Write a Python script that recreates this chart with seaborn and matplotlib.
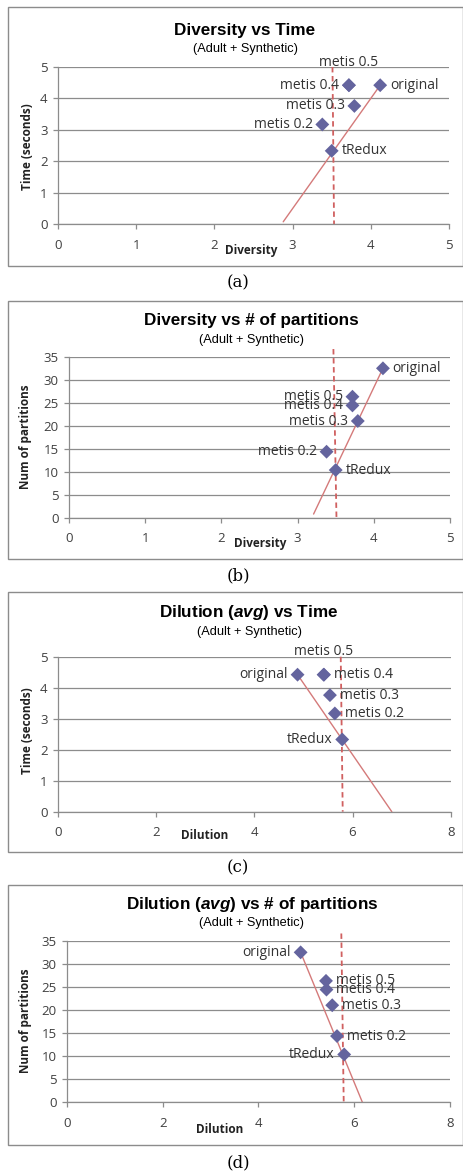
import numpy as np
import pandas as pd
import matplotlib
matplotlib.use("Agg")
import matplotlib.pyplot as plt
from matplotlib.patches import Rectangle
import seaborn as sns

# data
labels = ["original", "metis 0.5", "metis 0.4", "metis 0.3", "metis 0.2", "tRedux"]
diversity = [4.12, 3.72, 3.72, 3.79, 3.38, 3.50]
dilution = [4.88, 5.41, 5.42, 5.54, 5.64, 5.79]
time_sec = [4.42, 4.42, 4.42, 3.76, 3.17, 2.33]
partitions = [32.6, 26.4, 24.5, 21.1, 14.4, 10.4]

# trend lines and dashed reference lines (end points)
trend_a = ([2.88, 4.12], [0.07, 4.42])
trend_b = ([3.21, 4.12], [0.8, 32.6])
trend_c = ([4.88, 6.80], [4.42, 0.0])
trend_d = ([4.88, 6.17], [32.6, 0.0])
ref_a = ([3.51, 3.53], [5.0, 0.0])
ref_b = ([3.47, 3.51], [36.8, 0.0])
ref_c = ([5.76, 5.80], [5.0, 0.0])
ref_d = ([5.73, 5.78], [36.7, 0.0])

time_ticks = [0, 1, 2, 3, 4, 5]
part_ticks = [0, 5, 10, 15, 20, 25, 30, 35]
div_ticks = [0, 1, 2, 3, 4, 5]
dil_ticks = [0, 2, 4, 6, 8]

sns.set_theme(style="white")
plt.rcParams["font.family"] = ["Open Sans", "DejaVu Sans"]
plt.rcParams["mathtext.fontset"] = "custom"
plt.rcParams["mathtext.it"] = "Liberation Sans:italic:bold"
plt.rcParams["mathtext.rm"] = "Liberation Sans:bold"

W, H = 464, 1172
fig = plt.figure(figsize=(W / 100, H / 100), dpi=100)
fig.patch.set_facecolor("white")

GRID = "#8c8c8c"
MARK = "#64649e"
TXT = "#404040"


def fx(x):
    return x / W


def fy(y):
    return 1 - y / H


# side: r = right, l = left, u = above
panels = [
    dict(x=diversity, y=time_sec, trend=trend_a, ref=ref_a, xt=div_ticks, yt=time_ticks,
         box=(8, 7, 463, 266), ax=(58, 67, 449, 224),
         title="Diversity vs Time", tpos=(245, 30), spos=(246, 48.7),
         xl="Diversity", xlpos=(250.7, 250.7), yl="Time (seconds)", ylpos=(27.3, 146.7),
         cap="(a)", cappos=(238, 283), sides=["r", "u", "l", "l", "l", "r"]),
    dict(x=diversity, y=partitions, trend=trend_b, ref=ref_b, xt=div_ticks, yt=part_ticks,
         box=(8, 301, 463, 558.7), ax=(69, 357.3, 450, 517.7),
         title="Diversity vs # of partitions", tpos=(251.7, 321), spos=(251.7, 340),
         xl="Diversity", xlpos=(260, 544), yl="Num of partitions", ylpos=(26, 436.7),
         cap="(b)", cappos=(238, 576), sides=["r", "l", "l", "l", "l", "r"]),
    dict(x=dilution, y=time_sec, trend=trend_c, ref=ref_c, xt=dil_ticks, yt=time_ticks,
         box=(8, 592, 463, 851.7), ax=(58, 656.7, 450.7, 811.7),
         title=r"Dilution ($\mathit{avg}$) vs Time", tpos=(249, 612.3), spos=(249.7, 631.7),
         xl="Dilution", xlpos=(204.7, 835.7), yl="Time (seconds)", ylpos=(27.3, 730.7),
         cap="(c)", cappos=(238, 868), sides=["l", "u", "r", "r", "r", "l"]),
    dict(x=dilution, y=partitions, trend=trend_d, ref=ref_d, xt=dil_ticks, yt=part_ticks,
         box=(8, 885, 463, 1145), ax=(67, 941.3, 450, 1102.3),
         title=r"Dilution ($\mathit{avg}$) vs # of partitions", tpos=(252, 905), spos=(252, 923.3),
         xl="Dilution", xlpos=(220, 1129.3), yl="Num of partitions", ylpos=(26, 1020.7),
         cap="(d)", cappos=(238, 1163), sides=["l", "r", "r", "r", "r", "l"]),
]

for p in panels:
    bx0, by0, bx1, by1 = p["box"]
    fig.patches.append(Rectangle((fx(bx0), fy(by1)), fx(bx1 - bx0), (by1 - by0) / H,
                                 transform=fig.transFigure, fill=False,
                                 edgecolor=GRID, lw=1.0))
    l, t, r, b = p["ax"]
    ax = fig.add_axes([fx(l), fy(b), fx(r - l), (b - t) / H])
    ax.set_facecolor("none")

    df = pd.DataFrame({"x": p["x"], "y": p["y"], "label": labels})
    ax.plot(*p["trend"], color="#d47a7a", lw=1.0, zorder=2)
    ax.plot(*p["ref"], color="#d06060", lw=1.3, ls=(0, (3, 2)), zorder=2, clip_on=False)
    sns.scatterplot(data=df, x="x", y="y", marker="D", s=50, color=MARK,
                    edgecolor="none", ax=ax, zorder=3, clip_on=False)

    for (_, row), side in zip(df.iterrows(), p["sides"]):
        if side == "r":
            off, ha = (7, 0), "left"
        elif side == "l":
            off, ha = (-7, 0), "right"
        else:
            off, ha = (0, 16.5), "center"
        ax.annotate(row["label"], (row["x"], row["y"]), xytext=off,
                    textcoords="offset points", ha=ha, va="center",
                    fontsize=10, color="#333333", zorder=4)

    ax.set_xlim(p["xt"][0], p["xt"][-1])
    ax.set_ylim(p["yt"][0], p["yt"][-1])
    ax.set_xticks(p["xt"])
    ax.set_yticks(p["yt"])
    ax.grid(axis="y", color=GRID, lw=0.9)
    ax.grid(axis="x", visible=False)
    ax.set_axisbelow(True)
    for s in ["top", "right"]:
        ax.spines[s].set_visible(False)
    for s in ["left", "bottom"]:
        ax.spines[s].set_color(GRID)
        ax.spines[s].set_linewidth(0.9)
    ax.tick_params(axis="both", which="both", direction="out", length=3.5, width=0.9,
                   color=GRID, labelsize=9.5, labelcolor=TXT)
    ax.tick_params(axis="x", pad=7, bottom=True)
    ax.tick_params(axis="y", pad=4, left=True)

    ax.set_xlabel(p["xl"], fontsize=8.5, fontweight="bold", color="#222222")
    ax.set_ylabel(p["yl"], fontsize=8.5, fontweight="bold", color="#222222")
    ax.xaxis.set_label_coords(fx(p["xlpos"][0]), fy(p["xlpos"][1]), transform=fig.transFigure)
    ax.yaxis.set_label_coords(fx(p["ylpos"][0]), fy(p["ylpos"][1]), transform=fig.transFigure)
    ax.xaxis.label.set_va("center")
    ax.yaxis.label.set_va("center")

    fig.text(fx(p["tpos"][0]), fy(p["tpos"][1]), p["title"], ha="center", va="center",
             fontsize=12.3, fontweight="bold", family="Liberation Sans", color="black")
    fig.text(fx(p["spos"][0]), fy(p["spos"][1]), "(Adult + Synthetic)", ha="center",
             va="center", fontsize=9.2, family="Liberation Sans", color="black")
    fig.text(fx(p["cappos"][0]), fy(p["cappos"][1]), p["cap"], ha="center", va="center",
             fontsize=12, family="DejaVu Serif", color="black")

fig.savefig("out.png", dpi=100, facecolor="white")
